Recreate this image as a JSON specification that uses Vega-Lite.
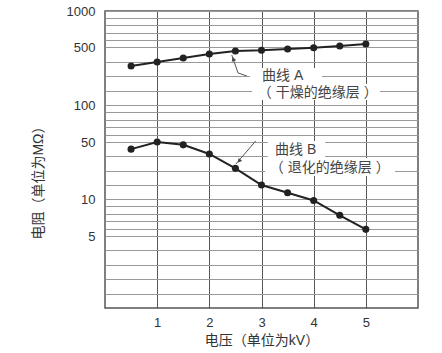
{
  "$schema": "https://vega.github.io/schema/vega-lite/v6.json",
  "width": 313,
  "height": 297,
  "autosize": "none",
  "padding": {"left": 105, "top": 11, "right": 24, "bottom": 45},
  "background": "white",
  "config": {
    "view": {"stroke": "#555", "strokeWidth": 1.5},
    "font": "Liberation Sans, Noto Sans CJK SC",
    "axis": {"labelFont": "Liberation Sans, Noto Sans CJK SC", "titleFont": "Liberation Sans, Noto Sans CJK SC"}
  },
  "datasets": {
    "curves": [
      {"curve": "A", "voltage": 0.5, "resistance": 369},
      {"curve": "A", "voltage": 1.0, "resistance": 397},
      {"curve": "A", "voltage": 1.5, "resistance": 424},
      {"curve": "A", "voltage": 2.0, "resistance": 452},
      {"curve": "A", "voltage": 2.5, "resistance": 472},
      {"curve": "A", "voltage": 3.0, "resistance": 477},
      {"curve": "A", "voltage": 3.5, "resistance": 486},
      {"curve": "A", "voltage": 4.0, "resistance": 495},
      {"curve": "A", "voltage": 4.5, "resistance": 514},
      {"curve": "A", "voltage": 5.0, "resistance": 542},
      {"curve": "B", "voltage": 0.5, "resistance": 45},
      {"curve": "B", "voltage": 1.0, "resistance": 50},
      {"curve": "B", "voltage": 1.5, "resistance": 48},
      {"curve": "B", "voltage": 2.0, "resistance": 41.6},
      {"curve": "B", "voltage": 2.5, "resistance": 31.5},
      {"curve": "B", "voltage": 3.0, "resistance": 19.8},
      {"curve": "B", "voltage": 3.5, "resistance": 14.4},
      {"curve": "B", "voltage": 4.0, "resistance": 9.8},
      {"curve": "B", "voltage": 4.5, "resistance": 7.8},
      {"curve": "B", "voltage": 5.0, "resistance": 5.9}
    ],
    "boxes": [
      {"voltage": 2.78, "v2": 4.16, "resistance": 355, "r2": 245},
      {"voltage": 2.82, "v2": 5.27, "resistance": 245, "r2": 134},
      {"voltage": 3.12, "v2": 4.22, "resistance": 51.4, "r2": 38.8},
      {"voltage": 3.07, "v2": 5.56, "resistance": 38.8, "r2": 26.1}
    ],
    "leaders": [
      {"id": "A", "step": 1, "voltage": 2.43, "resistance": 445},
      {"id": "A", "step": 2, "voltage": 2.55, "resistance": 321},
      {"id": "A", "step": 3, "voltage": 2.72, "resistance": 300},
      {"id": "B", "step": 1, "voltage": 2.51, "resistance": 34.6},
      {"id": "B", "step": 2, "voltage": 2.89, "resistance": 51.4}
    ],
    "arrows": [
      {"id": "A", "voltage": 2.46, "resistance": 417},
      {"id": "B", "voltage": 2.57, "resistance": 36.7}
    ],
    "labels": [
      {"voltage": 3.01, "resistance": 300, "text": "曲线 A"},
      {"voltage": 2.93, "resistance": 183, "text": "（ 干燥的绝缘层 ）"},
      {"voltage": 3.26, "resistance": 44.4, "text": "曲线 B"},
      {"voltage": 3.16, "resistance": 31.8, "text": "（ 退化的绝缘层 ）"}
    ]
  },
  "encoding": {
    "x": {
      "field": "voltage", "type": "quantitative",
      "scale": {"domain": [0, 6], "nice": false},
      "axis": {
        "values": [1, 2, 3, 4, 5], "grid": true, "gridColor": "#555", "gridWidth": 1,
        "ticks": false, "domain": false, "labelPadding": 8, "labelFontSize": 13, "labelColor": "#333",
        "title": "电压（单位为kV）", "titleFontSize": 14, "titleFontWeight": "normal", "titleColor": "#333", "titlePadding": 4
      }
    },
    "y": {
      "field": "resistance", "type": "quantitative",
      "scale": {"type": "linear", "domain": [0, 5, 10, 50, 100, 500, 1000], "range": [297, 225, 188, 131, 94, 36, 0], "nice": false, "zero": false},
      "axis": {
        "values": [1, 2, 3, 4, 5, 6, 7, 8, 9, 10, 20, 30, 40, 50, 60, 70, 80, 90, 100, 200, 300, 400, 500, 600, 700, 800, 900, 1000],
        "labelExpr": "indexof([5, 10, 50, 100, 500, 1000], datum.value) >= 0 ? datum.label : ''",
        "format": "d", "grid": true, "gridColor": "#999", "gridWidth": 1,
        "ticks": false, "domain": false, "labelPadding": 10, "labelFontSize": 13, "labelColor": "#333", "labelOverlap": false,
        "title": "电阻（单位为MΩ）", "titleFontSize": 14, "titleFontWeight": "normal", "titleColor": "#333",
        "titleX": -60, "titleY": 168
      }
    }
  },
  "layer": [
    {
      "data": {"name": "curves"},
      "mark": {"type": "line", "color": "#222", "strokeWidth": 2},
      "encoding": {"detail": {"field": "curve"}}
    },
    {
      "data": {"name": "curves"},
      "mark": {"type": "point", "filled": true, "color": "#222", "size": 50, "opacity": 1},
      "encoding": {}
    },
    {
      "data": {"name": "boxes"},
      "mark": {"type": "rect", "color": "white", "opacity": 1},
      "encoding": {"x2": {"field": "v2"}, "y2": {"field": "r2"}}
    },
    {
      "data": {"name": "leaders"},
      "mark": {"type": "line", "color": "#555", "strokeWidth": 1},
      "encoding": {"detail": {"field": "id"}, "order": {"field": "step"}}
    },
    {
      "data": {"name": "arrows"},
      "mark": {"type": "point", "shape": "triangle-up", "filled": true, "color": "#444", "size": 22, "opacity": 1},
      "encoding": {
        "angle": {"field": "id", "type": "nominal", "scale": {"domain": ["A", "B"], "range": [342, 221]}, "legend": null}
      }
    },
    {
      "data": {"name": "labels"},
      "mark": {"type": "text", "align": "left", "baseline": "middle", "fontSize": 14, "color": "#444", "font": "Liberation Sans, Noto Sans CJK SC"},
      "encoding": {"text": {"field": "text"}}
    }
  ]
}
